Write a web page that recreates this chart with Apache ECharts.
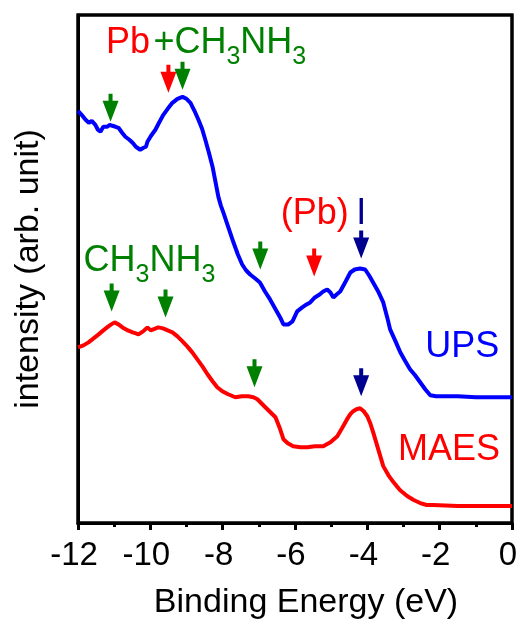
<!DOCTYPE html>
<html>
<head>
<meta charset="utf-8">
<script src="https://cdn.jsdelivr.net/npm/echarts@6/dist/echarts.min.js"></script>
<style>html,body{margin:0;padding:0;background:#fff;}#c{width:521px;height:625px;}</style>
</head>
<body>
<div id="c"></div>
<script>
// ---- data (binding energy in eV, intensity in arb. units) ----
const energyUPS = [-12.00,-11.90,-11.79,-11.70,-11.62,-11.52,-11.45,-11.38,-11.30,-11.19,-11.12,-11.05,-10.96,-10.88,-10.78,-10.69,-10.58,-10.49,-10.40,-10.36,-10.28,-10.19,-10.12,-10.08,-9.98,-9.86,-9.76,-9.64,-9.52,-9.39,-9.25,-9.11,-9.00,-8.89,-8.78,-8.67,-8.57,-8.48,-8.38,-8.28,-8.20,-8.12,-8.05,-7.98,-7.85,-7.70,-7.58,-7.46,-7.35,-7.24,-7.10,-6.97,-6.83,-6.69,-6.55,-6.41,-6.32,-6.27,-6.18,-6.07,-5.94,-5.80,-5.68,-5.58,-5.45,-5.32,-5.22,-5.11,-5.02,-4.94,-4.85,-4.75,-4.60,-4.47,-4.35,-4.20,-4.06,-3.95,-3.84,-3.70,-3.56,-3.45,-3.37,-3.22,-3.09,-2.95,-2.82,-2.68,-2.54,-2.40,-2.26,-2.10,-1.99,-1.50,-1.00,-0.50,0.00];
const intensityUPS = [413,409,404,401,403,399,394,392,397,397,399,398,397,396,391,387,384,381,377,376,374,376,377,382,388,394,401,409,415,421,425,427,425,421,413,404,395,384,371,357,342,327,318,311,297,281,269,259,253,249,245,241,232,224,215,206,199,197,199,202,212,216,219,221,226,229,232,234,231,226,229,232,242,251,254,255,254,248,241,232,221,206,194,182,171,162,154,148,141,134,128,127,127,127,126,126,126];

const energyMAES = [-12.00,-11.85,-11.71,-11.57,-11.43,-11.30,-11.16,-11.08,-10.99,-10.88,-10.77,-10.62,-10.49,-10.40,-10.33,-10.20,-10.08,-9.99,-9.94,-9.85,-9.78,-9.65,-9.52,-9.39,-9.25,-9.11,-8.98,-8.84,-8.70,-8.56,-8.42,-8.28,-8.15,-8.01,-7.85,-7.65,-7.47,-7.29,-7.15,-7.04,-6.93,-6.82,-6.68,-6.54,-6.43,-6.32,-6.20,-6.05,-5.85,-5.66,-5.45,-5.22,-5.02,-4.83,-4.70,-4.56,-4.47,-4.39,-4.30,-4.20,-4.10,-4.00,-3.92,-3.84,-3.70,-3.56,-3.42,-3.28,-3.10,-2.90,-2.72,-2.54,-2.36,-2.18,-1.50,-1.00,-0.50,0.00];
const intensityMAES = [176,178,181,185,189,193,197,199,201,199,196,193,191,190,189,192,196,193,192,195,196,195,193,191,187,182,177,171,164,157,149,142,136,132,129,126,127,127,126,124,120,116,111,106,96,84,80,77,76,76,77,77,81,87,95,104,109,112,114,115,112,107,100,91,74,57,48,41,33,27,23,20,18,18,17,17,17,17];

const xTickLabels = ['-12','-10','-8','-6','-4','-2','0'];
const X_MIN = -12, X_MAX = 0, Y_MIN = 0, Y_MAX = 509;

// arrow tips (energy, intensity)
const arrowsRed   = [[-9.50,431],[-5.47,247]];
const arrowsGreen = [[-11.10,402],[-9.11,434],[-6.96,254],[-11.07,212],[-9.58,206],[-7.12,136]];
const arrowsNavy  = [[-4.17,265],[-4.17,127]];

// text annotations: [energy, intensity] anchor
const labelPb       = {text:'Pb',   at:[-10.62,480.5]};
const labelCH3NH3a  = {text:'+CH|3|NH|3', at:[-9.914,480.5]};
const labelPbParen  = {text:'(Pb)', at:[-5.453,309.5]};
const labelI        = {text:'I',    at:[-4.17,309.5]};
const labelCH3NH3b  = {text:'CH|3|NH|3', at:[-11.848,262.5]};
const labelUPS      = {text:'UPS',  at:[-1.378,176.5]};
const labelMAES     = {text:'MAES', at:[-1.74,73.5]};

const FONT = 'Liberation Sans, Arial, sans-serif';
const BLUE = '#0000ff', RED = '#ff0000', GREEN = '#008000', NAVY = '#000090';

function zip(xs, ys){ return xs.map((x,i)=>[x, ys[i]]); }
function chem(t){ const p=t.split('|'); return p.map((s,i)=> i%2 ? '{s|'+s+'}' : '{m|'+s+'}').join(''); }

const arrowPath = 'path://M6,0 L10,0 L10,7 L16,7 L8,28 L0,7 L6,7 Z';
function arrowSeries(data, color){
  return {type:'scatter', data:data, symbol:arrowPath, symbolSize:[16,28], symbolOffset:[0,'-50%'],
    itemStyle:{color:color, opacity:1}, silent:true, z:5, animation:false};
}
function textSeries(lbl, color, align, isChem){
  const label = {show:true, position:[0,0], align:align, verticalAlign:'middle', color:color,
    fontFamily:FONT, fontSize:36, opacity:1};
  if (isChem){
    label.formatter = chem(lbl.text);
    label.rich = {
      m:{fontSize:36, lineHeight:42, color:color, fontFamily:FONT},
      s:{fontSize:25, lineHeight:25, padding:[28,0,0,0], color:color, fontFamily:FONT}
    };
  } else {
    label.formatter = lbl.text;
  }
  return {type:'scatter', data:[lbl.at], symbolSize:0, itemStyle:{color:color, opacity:1}, label:label, silent:true, z:6, animation:false};
}

const chart = echarts.init(document.getElementById('c'), null, {renderer:'canvas'});
chart.setOption({
  animation:false,
  grid:{left:78, right:9, top:15, bottom:101, show:true, borderColor:'#000', borderWidth:3},
  xAxis:{
    type:'value', min:X_MIN, max:X_MAX, interval:2,
    axisLine:{show:true, onZero:false, lineStyle:{color:'#000', width:3}},
    axisTick:{show:true, inside:false, length:7, lineStyle:{color:'#000', width:3}},
    minorTick:{show:true, splitNumber:2, length:4, lineStyle:{color:'#000', width:3}},
    splitLine:{show:false},
    axisLabel:{color:'#000', fontSize:33, fontFamily:FONT, margin:16, padding:[0,8,0,0],
      formatter:function(v){ const i = Math.round((v+12)/2); return xTickLabels[i] !== undefined ? xTickLabels[i] : ''; }},
    name:'Binding Energy (eV)', nameLocation:'middle', nameGap:63,
    nameTextStyle:{color:'#000', fontSize:34, fontFamily:FONT, padding:[0,0,0,22]}
  },
  yAxis:{
    type:'value', min:Y_MIN, max:Y_MAX,
    axisLine:{show:true, onZero:false, lineStyle:{color:'#000', width:3}},
    axisTick:{show:false}, axisLabel:{show:false}, splitLine:{show:false},
    name:'intensity (arb. unit)', nameLocation:'middle', nameRotate:90, nameGap:32,
    nameTextStyle:{color:'#000', fontSize:34, fontFamily:FONT}
  },
  series:[
    {type:'line', data:zip(energyUPS,intensityUPS), showSymbol:false, symbol:'none', clip:false,
      lineStyle:{color:BLUE, width:4}, z:3, animation:false,
      markArea:{silent:true, animation:false,
        itemStyle:{color:'rgba(0,0,0,0)', borderColor:'#000', borderWidth:3, borderType:'solid'},
        label:{show:false},
        data:[[{coord:[X_MIN, Y_MIN]}, {coord:[X_MAX, Y_MAX]}]]}},
    {type:'line', data:zip(energyMAES,intensityMAES), showSymbol:false, symbol:'none', lineStyle:{color:RED, width:4}, z:3, animation:false},
    arrowSeries(arrowsRed, RED),
    arrowSeries(arrowsGreen, GREEN),
    arrowSeries(arrowsNavy, NAVY),
    textSeries(labelPb, RED, 'center', false),
    textSeries(labelCH3NH3a, GREEN, 'left', true),
    textSeries(labelPbParen, RED, 'center', false),
    textSeries(labelI, NAVY, 'center', false),
    textSeries(labelCH3NH3b, GREEN, 'left', true),
    textSeries(labelUPS, BLUE, 'center', false),
    textSeries(labelMAES, RED, 'center', false)
  ]
});
</script>
</body>
</html>
